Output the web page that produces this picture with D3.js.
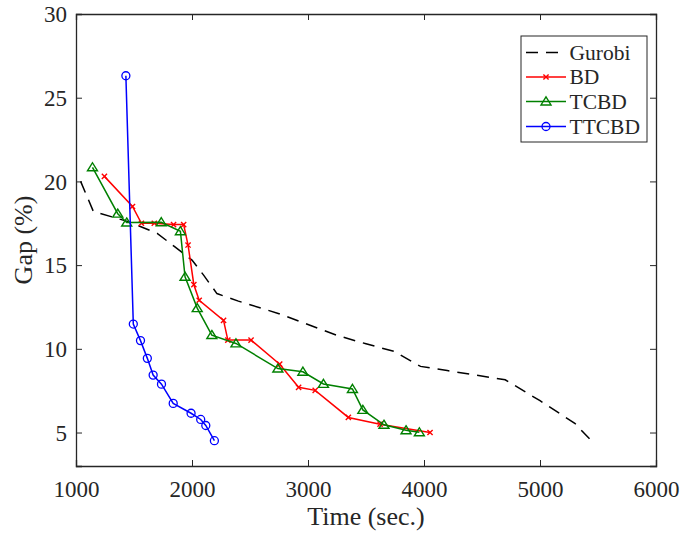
<!DOCTYPE html>
<html>
<head>
<meta charset="utf-8">
<script src="https://cdn.jsdelivr.net/npm/d3@7/dist/d3.min.js"></script>
<style>
  html, body { margin: 0; padding: 0; background: #fff; }
  svg { display: block; }
  text { font-family: "Liberation Serif", "Times New Roman", serif; fill: #262626; }
</style>
</head>
<body>
<svg id="chart" width="681" height="535"></svg>
<script>
// Solver convergence: optimality gap (%) against run time (sec.)
const gurobiTime = [1040, 1150, 1450, 1700, 1850, 2000, 2100, 2215, 2400, 2750, 3000, 3250, 3500, 3740, 3970, 4200, 4700, 5000, 5300, 5430];
const gurobiGap  = [20.0, 18.2, 17.6, 16.9, 16.1, 15.3, 14.4, 13.3, 12.85, 12.1, 11.45, 10.8, 10.3, 9.85, 8.95, 8.7, 8.15, 6.9, 5.55, 4.6];

const bdTime = [1245, 1487, 1564, 1675, 1841, 1928, 1966, 2016, 2062, 2272, 2309, 2509, 2756, 2919, 3062, 3348, 3621, 4052];
const bdGap  = [20.3, 18.5, 17.5, 17.5, 17.42, 17.42, 16.2, 13.83, 12.9, 11.7, 10.52, 10.52, 9.08, 7.7, 7.52, 5.9, 5.5, 5.0];

const tcbdTime = [1142, 1360, 1437, 1735, 1900, 1940, 2045, 2171, 2379, 2740, 2956, 3133, 3383, 3473, 3655, 3845, 3960];
const tcbdGap  = [20.84, 18.07, 17.54, 17.56, 17.02, 14.3, 12.43, 10.82, 10.32, 8.82, 8.63, 7.9, 7.6, 6.35, 5.46, 5.13, 5.01];

const ttcbdTime = [1430, 1494, 1556, 1615, 1665, 1737, 1838, 1992, 2075, 2119, 2193];
const ttcbdGap  = [26.31, 11.48, 10.49, 9.43, 8.43, 7.89, 6.74, 6.15, 5.78, 5.42, 4.51];

const xTicks = [1000, 2000, 3000, 4000, 5000, 6000];
const yTicks = [5, 10, 15, 20, 25, 30];

const seriesNames = ["Gurobi", "BD", "TCBD", "TTCBD"];

const zip = (xs, ys) => xs.map((x, i) => ({ x, y: ys[i] }));
const series = [
  { name: seriesNames[0], pts: zip(gurobiTime, gurobiGap), color: "#000000", dash: "12,8", marker: null },
  { name: seriesNames[1], pts: zip(bdTime, bdGap), color: "#ff0000", dash: null, marker: "cross" },
  { name: seriesNames[2], pts: zip(tcbdTime, tcbdGap), color: "#008000", dash: null, marker: "triangle" },
  { name: seriesNames[3], pts: zip(ttcbdTime, ttcbdGap), color: "#0000ff", dash: null, marker: "circle" }
];

const svg = d3.select("#chart");
const L = 76, R = 656, T = 14, B = 466;

const x = d3.scaleLinear().domain([1000, 6000]).range([L, R]);
const y = d3.scaleLinear().domain([3, 30]).range([B, T]);

const axisColor = "#262626";
const tickLen = 6;

// Axes with inward ticks on all four sides
const axBottom = svg.append("g").attr("transform", `translate(0,${B})`)
  .call(d3.axisBottom(x).tickValues(xTicks).tickSize(-tickLen).tickPadding(14).tickFormat(d3.format("d")));
const axTop = svg.append("g").attr("transform", `translate(0,${T})`)
  .call(d3.axisTop(x).tickValues(xTicks).tickSize(-tickLen).tickFormat(""));
const axLeft = svg.append("g").attr("transform", `translate(${L},0)`)
  .call(d3.axisLeft(y).tickValues(yTicks).tickSize(-tickLen).tickPadding(9).tickFormat(d3.format("d")));
const axRight = svg.append("g").attr("transform", `translate(${R},0)`)
  .call(d3.axisRight(y).tickValues(yTicks).tickSize(-tickLen).tickFormat(""));

[axBottom, axTop, axLeft, axRight].forEach(g => {
  g.select(".domain").attr("stroke", axisColor).attr("stroke-width", 1.3);
  g.selectAll(".tick line").attr("stroke", axisColor).attr("stroke-width", 1);
  g.selectAll(".tick text").attr("fill", axisColor)
    .style("font-family", "'Liberation Serif', 'Times New Roman', serif")
    .style("font-size", "23px");
});
axBottom.selectAll(".tick text").attr("dy", "0.75em");
axLeft.selectAll(".tick text").attr("dy", "0.34em");

// Axis titles
svg.append("text")
  .attr("x", (L + R) / 2).attr("y", 525)
  .attr("text-anchor", "middle")
  .style("font-size", "26px")
  .text("Time (sec.)");
svg.append("text")
  .attr("transform", `translate(32,${(T + B) / 2}) rotate(-90)`)
  .attr("text-anchor", "middle")
  .style("font-size", "26px")
  .text("Gap (%)");

const line = d3.line().x(d => x(d.x)).y(d => y(d.y));

function drawMarker(g, type, color, cx, cy) {
  if (type === "cross") {
    const s = 2.6;
    g.append("path")
      .attr("d", `M${cx - s},${cy - s}L${cx + s},${cy + s}M${cx - s},${cy + s}L${cx + s},${cy - s}`)
      .attr("stroke", color).attr("stroke-width", 1.4).attr("fill", "none");
  } else if (type === "triangle") {
    const w = 5, h = 4.6;
    g.append("path")
      .attr("d", `M${cx},${cy - h}L${cx + w},${cy + h * 0.75}L${cx - w},${cy + h * 0.75}Z`)
      .attr("stroke", color).attr("stroke-width", 1.4).attr("fill", "none");
  } else if (type === "circle") {
    g.append("circle").attr("cx", cx).attr("cy", cy).attr("r", 4)
      .attr("stroke", color).attr("stroke-width", 1.3).attr("fill", "none");
  }
}

const plot = svg.append("g");
series.forEach(s => {
  plot.append("path")
    .datum(s.pts)
    .attr("d", line)
    .attr("fill", "none")
    .attr("stroke", s.color)
    .attr("stroke-width", 1.5)
    .attr("stroke-dasharray", s.dash);
  if (s.marker) {
    const mg = plot.append("g");
    s.pts.forEach(p => drawMarker(mg, s.marker, s.color, x(p.x), y(p.y)));
  }
});

// Legend
const lg = svg.append("g");
lg.append("rect")
  .attr("x", 521).attr("y", 36).attr("width", 126).attr("height", 106)
  .attr("fill", "#fff").attr("stroke", axisColor).attr("stroke-width", 1);
const rowY = [52.5, 77, 101.5, 126.5];
series.forEach((s, i) => {
  const yy = rowY[i];
  lg.append("line")
    .attr("x1", 526).attr("x2", 566).attr("y1", yy).attr("y2", yy)
    .attr("stroke", s.color).attr("stroke-width", 1.5)
    .attr("stroke-dasharray", s.dash);
  if (s.marker) drawMarker(lg, s.marker, s.color, 546, yy);
  lg.append("text")
    .attr("x", 569.5).attr("y", yy).attr("dy", "0.34em")
    .style("font-size", "21.5px")
    .attr("fill", "#000")
    .text(s.name);
});
</script>
</body>
</html>
